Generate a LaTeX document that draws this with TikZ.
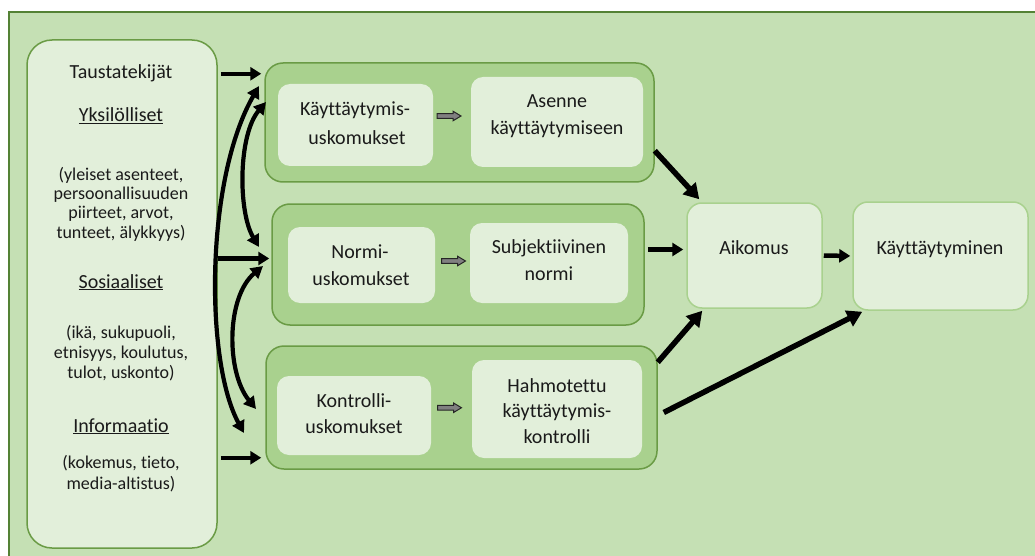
\documentclass[tikz,border=0pt]{standalone}
\usepackage{fontspec}
\setmainfont{Carlito}[Ligatures=NoCommon]
\usetikzlibrary{arrows.meta,calc}
\definecolor{bgfill}{HTML}{C5E0B4}
\definecolor{framec}{HTML}{548235}
\definecolor{lightf}{HTML}{E2EFDA}
\definecolor{groupf}{HTML}{A9D18E}
\definecolor{groupd}{HTML}{6A9B45}
\definecolor{txtc}{HTML}{1A1A1A}
\begin{document}
\begin{tikzpicture}[x=1pt,y=-1pt,
  leftbox/.style={draw=groupd, line width=1.5pt, fill=lightf, rounded corners=25pt, inner sep=0pt},
  groupbox/.style={draw=groupd, line width=1.5pt, fill=groupf, rounded corners=18pt, inner sep=0pt},
  innerbox/.style={fill=lightf, rounded corners=12pt, inner sep=0pt},
  endbox/.style={draw=groupf, line width=1.5pt, fill=lightf, rounded corners=15pt, inner sep=0pt},
  head/.style={font=\fontsize{20}{24}\selectfont, text=txtc, anchor=base, inner sep=0pt},
  body/.style={font=\fontsize{18}{20}\selectfont, text=txtc, anchor=base, inner sep=0pt},
  inl/.style={font=\fontsize{20}{24}\selectfont, text=txtc, anchor=base, inner sep=0pt},
  bigarrow/.style={line width=4.5pt, arrows={-Triangle[length=11pt,width=13pt]}},
  diagarrow/.style={line width=5.5pt, arrows={-Triangle[length=15pt,width=17pt]}},
  curvearrow/.style={line width=4.2pt, arrows={Triangle[length=12pt,width=13pt]-Triangle[length=12pt,width=13pt]}},
  blockarrow/.style={draw=black!85, line width=1pt, fill=black!50},
  pics/blkarrow/.style={code={\draw[blockarrow] (-12,-2.3) -- (4,-2.3) -- (4,-4.8) -- (12,0) -- (4,4.8) -- (4,2.3) -- (-12,2.3) -- cycle;}}
]
\useasboundingbox (0,0) rectangle (1035,556);
\clip (0,0) rectangle (1035,556);
% frame
\path[fill=bgfill] (9,12) rectangle (1045,566);
\draw[framec, line width=2pt] (9,566) -- (9,12) -- (1045,12);

% left box
\node[leftbox, minimum width=190pt, minimum height=508pt] (left) at (122,294) {};

% groups
\node[groupbox, minimum width=389pt, minimum height=119pt] (g1) at (459.5,122.5) {};
\node[groupbox, minimum width=372pt, minimum height=121pt] (g2) at (458,264.5) {};
\node[groupbox, minimum width=391pt, minimum height=123pt] (g3) at (461.5,407.5) {};

% inner boxes
\node[innerbox, minimum width=155pt, minimum height=82pt] (kb) at (355.5,125) {};
\node[innerbox, minimum width=172pt, minimum height=90pt] (as) at (557,122) {};
\node[innerbox, minimum width=147pt, minimum height=76pt] (nu) at (361.5,265) {};
\node[innerbox, minimum width=158pt, minimum height=80pt] (su) at (549,263) {};
\node[innerbox, minimum width=154pt, minimum height=79pt] (ku) at (354,415.5) {};
\node[innerbox, minimum width=170pt, minimum height=98pt] (ha) at (557,409) {};

% end boxes
\node[endbox, minimum width=135pt, minimum height=105pt] (aik) at (754.5,255.5) {};
\node[endbox, minimum width=175pt, minimum height=108pt] (kay) at (940.5,256) {};

% left texts
\node[head] (t1) at (121,79) {Taustatekijät};
\node[head] (t2) at (121,122) {\underline{Yksilölliset}};
\node[body] (t3) at (121,180) {(yleiset asenteet,};
\node[body] (t4) at (121,199) {persoonallisuuden};
\node[body] (t5) at (121,218) {piirteet, arvot,};
\node[body] (t6) at (121,238) {tunteet, älykkyys)};
\node[head] (t7) at (121,288) {\underline{Sosiaaliset}};
\node[body] (t8) at (121,338) {(ikä, sukupuoli,};
\node[body] (t9) at (121,358) {etnisyys, koulutus,};
\node[body] (t10) at (121,378) {tulot, uskonto)};
\node[head] (t11) at (121,432) {\underline{Informaatio}};
\node[body] (t12) at (121,468) {(kokemus, tieto,};
\node[body] (t13) at (121,489) {media-altistus)};

% inner texts
\node[inl] (kb1) at (355,116) {Käyttäytymis-};
\node[inl] (kb2) at (357,145) {uskomukset};
\node[inl] (as1) at (557,108) {Asenne};
\node[inl] (as2) at (557,135) {käyttäytymiseen};
\node[inl] (nu1) at (360,258) {Normi-};
\node[inl] (nu2) at (361,285) {uskomukset};
\node[inl] (su1) at (549,253) {Subjektiivinen};
\node[inl] (su2) at (549,280) {normi};
\node[inl] (ku1) at (354,407) {Kontrolli-};
\node[inl] (ku2) at (354,433) {uskomukset};
\node[inl] (ha1) at (557,392) {Hahmotettu};
\node[inl] (ha2) at (557,417) {käyttäytymis-};
\node[inl] (ha3) at (557,443) {kontrolli};
\node[inl] (ai1) at (754,254) {Aikomus};
\node[inl] (ka1) at (940,254) {Käyttäytyminen};

% small block arrows
\coordinate (s1) at ($(kb.east)!0.5!(as.west)+(-3,-7.5)$);
\coordinate (s2) at ($(nu.east)!0.5!(su.west)+(1,-3)$);
\coordinate (s3) at ($(ku.east)!0.5!(ha.west)+(-2,-4.5)$);
\pic at (s1) {blkarrow};
\pic at (s2) {blkarrow};
\pic at (s3) {blkarrow};

% left horizontal arrows
\draw[bigarrow, shorten <=3pt, shorten >=3pt] (left.east |- t1) -- (g1.west |- t1);
\coordinate (g2w) at ([yshift=6pt]g2.west);
\draw[bigarrow, shorten >=2pt] (left.east |- g2w) -- (g2w);
\coordinate (g3w) at ([yshift=12pt]g3.south west);
\draw[bigarrow, shorten <=3pt, shorten >=4pt] (left.east |- g3w) -- (g3w);

% curved double arrows
\coordinate (c1a) at (259,86);
\coordinate (c1b) at (244,433);
\coordinate (c2a) at (266,102);
\coordinate (c2b) at (259,247);
\coordinate (c3a) at (263,266);
\coordinate (c3b) at (256,409);
\draw[curvearrow] (c1a) .. controls (205,180) and (205,362) .. (c1b);
\draw[curvearrow] (c2a) .. controls (238,135) and (238,212) .. (c2b);
\draw[curvearrow] (c3a) .. controls (226,297) and (226,372) .. (c3b);

% right arrows
\draw[diagarrow] ([yshift=32pt]g1.south east) -- ([xshift=13pt,yshift=3pt]aik.north west);
\coordinate (g2e) at ([xshift=3pt,yshift=15pt]g2.east);
\draw[bigarrow, shorten >=3pt] (g2e) -- (g2e -| aik.west);
\draw[bigarrow, shorten <=1pt, shorten >=2pt] (aik.east) -- (kay.west);
\draw[diagarrow] ([yshift=-17pt]g3.north east) -- ([xshift=16pt,yshift=-2pt]aik.south west);
\draw[diagarrow] ([xshift=6pt,yshift=-5pt]g3.east) -- ([xshift=10pt,yshift=-1pt]kay.south west);
\end{tikzpicture}
\end{document}
